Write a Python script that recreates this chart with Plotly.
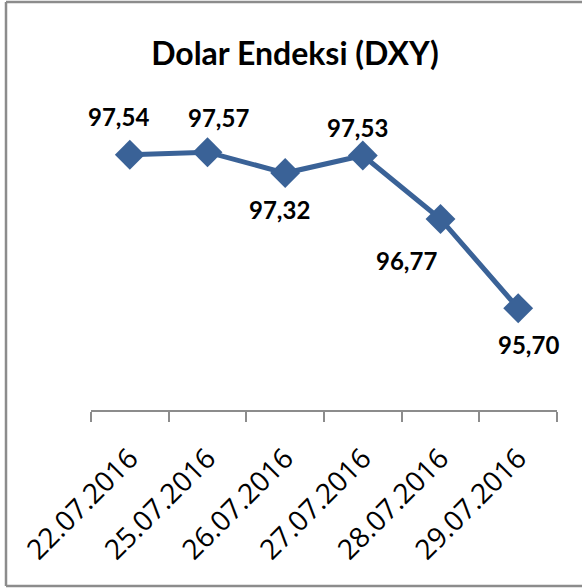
import plotly.graph_objects as go

dates = ["22.07.2016", "25.07.2016", "26.07.2016", "27.07.2016", "28.07.2016", "29.07.2016"]
values = [97.54, 97.57, 97.32, 97.53, 96.77, 95.70]
labels = ["97,54", "97,57", "97,32", "97,53", "96,77", "95,70"]

# label offsets in pixels (dx right, dy down) relative to each point
label_dx = [-11, 11, -6, -5, -34, 10]
label_dy = [-38, -35, 36, -28, 42, 36]

W, H = 582, 588
L, R, T, B = 91, 25, 118, 178
pw, ph = W - L - R, H - T - B

fig = go.Figure()
fig.add_trace(go.Scatter(
    x=dates, y=values, mode="lines+markers",
    line=dict(color="#3A6297", width=5),
    marker=dict(symbol="diamond", size=23, color="#3A6297"),
    hoverinfo="skip",
))

for d, v, t, dx, dy in zip(dates, values, labels, label_dx, label_dy):
    fig.add_annotation(x=d, y=v, text=t, showarrow=False,
                       xshift=dx, yshift=-dy,
                       font=dict(family="Lato", size=24, color="#000000", weight="bold"),
                       xref="x", yref="y")

# outer chart border (left, top, bottom)
def px(xp):
    return (xp - L) / pw

def py(yp):
    return (H - B - yp) / ph

border = "#8C8C8C"
fig.add_shape(type="line", xref="paper", yref="paper", x0=px(6), x1=px(600), y0=py(2), y1=py(2),
              line=dict(color=border, width=2.5))
fig.add_shape(type="line", xref="paper", yref="paper", x0=px(6), x1=px(600), y0=py(586), y1=py(586),
              line=dict(color=border, width=2.5))
fig.add_shape(type="line", xref="paper", yref="paper", x0=px(6), x1=px(6), y0=py(2), y1=py(586),
              line=dict(color=border, width=2.5))

fig.update_layout(
    width=W, height=H,
    margin=dict(l=L, r=R, t=T, b=B, pad=0, autoexpand=False),
    paper_bgcolor="white", plot_bgcolor="white",
    showlegend=False,
    title=dict(text="Dolar Endeksi (DXY)", x=295 / W, xanchor="center",
               y=1 - 54 / H, yanchor="middle",
               font=dict(family="Lato", size=32, color="#000000", weight="bold")),
    xaxis=dict(type="category", range=[-0.5, 5.5], showgrid=False, zeroline=False,
               showline=True, linecolor="#8C8C8C", linewidth=1.5, automargin=False,
               ticks="outside", tickson="boundaries", ticklen=10, tickcolor="#8C8C8C", tickwidth=1.5,
               ticklabelstandoff=19,
               tickangle=-45, tickfont=dict(family="Open Sans", size=28, color="#000000")),
    yaxis=dict(range=[94.48, 97.98], visible=False, showgrid=False, zeroline=False),
)

fig.write_html("out.html", config={"displayModeBar": False},
               post_script="document.body.style.margin='0';")
